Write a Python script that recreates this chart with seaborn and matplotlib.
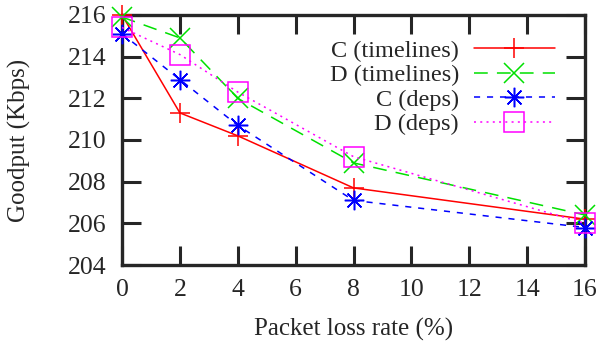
import matplotlib
matplotlib.use("Agg")
import matplotlib.pyplot as plt
import seaborn as sns

loss_rate = [0, 2, 4, 8, 16]
c_timelines = [216.0, 211.3, 210.2, 207.7, 206.2]
d_timelines = [215.9, 214.9, 212.0, 208.9, 206.4]
c_deps = [215.1, 212.9, 210.7, 207.1, 205.8]
d_deps = [215.4, 214.1, 212.3, 209.2, 206.0]

series = [
    ("C (timelines)", c_timelines, "#ff0000", "+", "-", 14),
    ("D (timelines)", d_timelines, "#00e000", "x", (0, (9, 6)), 14),
    ("C (deps)", c_deps, "#0000ff", (8, 2, 0), (0, (4, 4.5)), 14),
    ("D (deps)", d_deps, "#ff00ff", "s", (0, (1.3, 2.8)), 14),
]

sns.set_style("ticks")
plt.rcParams["font.family"] = ["Liberation Serif", "DejaVu Serif"]
plt.rcParams["font.size"] = 18

fig, ax = plt.subplots(figsize=(6.02, 3.47), dpi=100)
fig.subplots_adjust(left=0.2027, right=0.9718, top=0.9568, bottom=0.2363)

for name, vals, color, marker, ls, ms in series:
    sns.lineplot(x=loss_rate, y=vals, ax=ax, color=color, marker=marker,
                 linestyle=ls, linewidth=1.1, markersize=ms,
                 markerfacecolor="none", markeredgecolor=color,
                 markeredgewidth=1.1, label=name, clip_on=False, zorder=3)

ax.set_xlim(0, 16)
ax.set_ylim(204, 216)
ax.set_xticks(range(0, 17, 2))
ax.set_yticks(range(204, 217, 2))
ax.tick_params(direction="in", length=13.5, width=2.2, top=True, right=True,
               labelsize=18.5)
ax.tick_params(axis="y", pad=11.5)
ax.tick_params(axis="x", pad=10)
for sp in ax.spines.values():
    sp.set_linewidth(2.4)
    sp.set_visible(True)

ax.set_xlabel("Packet loss rate (%)", fontsize=18)
ax.set_ylabel("Goodput (Kbps)", fontsize=18)
ax.xaxis.set_label_coords(0.5, -0.212)
ax.yaxis.set_label_coords(-0.197, 0.5)

ax.legend(loc="upper right", frameon=False, markerfirst=False, fontsize=17.5,
          handlelength=3.35, labelspacing=0.1, borderpad=0, borderaxespad=0,
          bbox_to_anchor=(0.935, 0.9), handletextpad=0.6)

fig.savefig("out.png", dpi=100)
